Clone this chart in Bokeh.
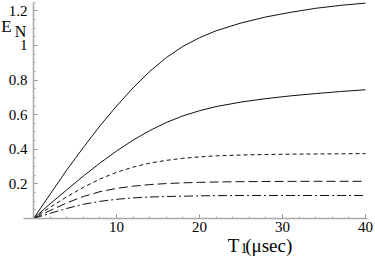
from bokeh.plotting import figure
from bokeh.models import Range1d, FixedTicker, Label, GlobalInlineStyleSheet
from bokeh.embed import file_html
from bokeh.resources import INLINE

# T1 (microseconds)
t = [0, 2, 4, 6, 8, 10, 12, 14, 16, 18, 20, 22, 25, 28, 31, 34, 37, 40]
# E_N curves
en_top = [0, 0.14, 0.28, 0.41, 0.535, 0.65, 0.755, 0.85, 0.93, 0.995, 1.045, 1.085, 1.13, 1.165, 1.192, 1.215, 1.232, 1.245]
en_second = [0, 0.085, 0.165, 0.245, 0.32, 0.39, 0.453, 0.508, 0.555, 0.593, 0.623, 0.647, 0.673, 0.693, 0.709, 0.722, 0.734, 0.744]
en_dotted = [0, 0.065, 0.125, 0.18, 0.228, 0.267, 0.297, 0.32, 0.336, 0.348, 0.356, 0.362, 0.367, 0.37, 0.372, 0.373, 0.374, 0.375]
en_dashed = [0, 0.046, 0.09, 0.127, 0.155, 0.174, 0.187, 0.196, 0.202, 0.206, 0.209, 0.211, 0.213, 0.214, 0.2145, 0.215, 0.215, 0.215]
en_dashdot = [0, 0.03, 0.058, 0.082, 0.099, 0.111, 0.119, 0.124, 0.127, 0.129, 0.131, 0.132, 0.133, 0.133, 0.133, 0.133, 0.133, 0.133]

x_ticks = [10, 20, 30, 40]
x_minor = [2 * i for i in range(1, 21)]
y_ticks = [0.2, 0.4, 0.6, 0.8, 1.0, 1.2]
y_tick_labels = ["0.2", "0.4", "0.6", "0.8", "1", "1.2"]
y_minor = [round(0.05 * i, 2) for i in range(1, 26)]

SERIF = "Liberation Serif"

# frame covers the whole canvas; axes are drawn crossing at the origin
p = figure(width=375, height=258, output_backend="svg", toolbar_location=None,
           x_range=Range1d(-3.976, 41.205), y_range=Range1d(-0.2312, 1.2601),
           min_border=0, min_border_left=0, min_border_right=0,
           min_border_top=0, min_border_bottom=0)
p.stylesheets = [GlobalInlineStyleSheet(css="body { margin: 0 !important; }")]
p.outline_line_color = None
p.xgrid.visible = False
p.ygrid.visible = False
p.background_fill_color = "white"
p.border_fill_color = "white"

lw = 1.0
col = "#111111"
p.line(t, en_top, line_color=col, line_width=lw)
p.line(t, en_second, line_color=col, line_width=lw)
p.line(t, en_dotted, line_color=col, line_width=lw, line_dash="4 3")
p.line(t, en_dashed, line_color=col, line_width=lw, line_dash="9 4")
p.line(t, en_dashdot, line_color=col, line_width=lw, line_dash="9 3 2 3")

p.xaxis.fixed_location = 0
p.yaxis.fixed_location = 0
p.xaxis.bounds = (-1.2, 40.3)
p.yaxis.bounds = (0, 1.25)
p.xaxis.ticker = FixedTicker(ticks=x_ticks, minor_ticks=x_minor)
p.yaxis.ticker = FixedTicker(ticks=y_ticks, minor_ticks=y_minor)
p.yaxis.major_label_overrides = {v: s for v, s in zip(y_ticks, y_tick_labels)}

for ax in (p.xaxis[0], p.yaxis[0]):
    ax.axis_line_color = "#a8a8a8"
    ax.axis_line_width = 1.5
    ax.major_tick_line_color = "#888888"
    ax.minor_tick_line_color = "#aaaaaa"
    ax.major_tick_in = 4
    ax.major_tick_out = 0
    ax.minor_tick_in = 2
    ax.minor_tick_out = 0
    ax.major_label_text_font = SERIF
    ax.major_label_text_font_size = "15px"
    ax.major_label_text_color = "black"
p.xaxis.major_label_standoff = 3
p.yaxis.major_label_standoff = 6

def add_label(x, y, text, size):
    p.add_layout(Label(x=x, y=y, text=text, text_font=SERIF, text_font_size=size,
                       text_color="black", text_baseline="alphabetic", text_align="left"))

add_label(-3.89, 1.108, "E", "17px")
add_label(-2.25, 1.083, "N", "16px")
add_label(23.41, -0.158, "T", "19px")
add_label(24.94, -0.169, "1", "14px")
add_label(25.5, -0.158, "(μsec)", "19px")

open("out.html", "w").write(file_html(p, INLINE))
